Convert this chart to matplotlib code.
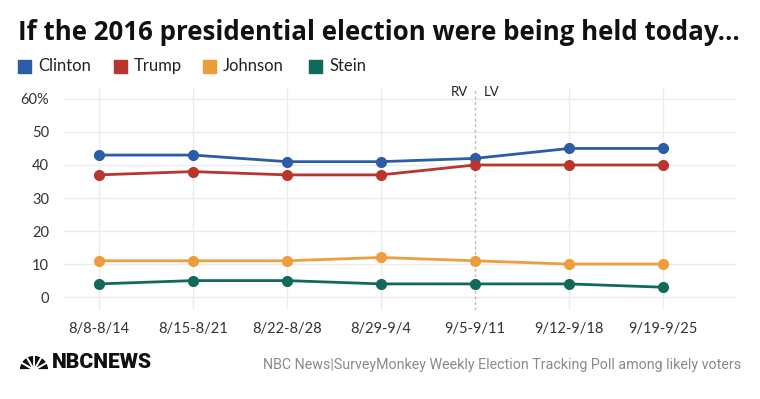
import matplotlib
matplotlib.use("Agg")
import matplotlib.pyplot as plt
from matplotlib.patches import Wedge, Circle

plt.rcParams['font.family'] = ['Lato', 'DejaVu Sans']

weeks = ["8/8-8/14", "8/15-8/21", "8/22-8/28", "8/29-9/4", "9/5-9/11", "9/12-9/18", "9/19-9/25"]
clinton = [43, 43, 41, 41, 42, 45, 45]
trump = [37, 38, 37, 37, 40, 40, 40]
johnson = [11, 11, 11, 12, 11, 10, 10]
stein = [4, 5, 5, 4, 4, 4, 3]
series_names = ["Clinton", "Trump", "Johnson", "Stein"]
colors = ["#2b5ca6", "#b8362d", "#ee9d3b", "#11695a"]
yticks = [0, 10, 20, 30, 40, 50, 60]
ytick_labels = ["0", "10", "20", "30", "40", "50", "60%"]
divider_index = 4

fig = plt.figure(figsize=(7.6, 3.99), dpi=100)
ax = fig.add_axes([63/760, 1-310/399, (737-63)/760, (310-88)/399])

x = list(range(len(weeks)))
for vals, name, c in zip([clinton, trump, johnson, stein], series_names, colors):
    ax.plot(x, vals, color=c, lw=2.0, marker='o', ms=7, mec=c, mfc=c, zorder=3,
            solid_capstyle='round')

ax.set_xlim(-0.383, 6.787)
ax.set_ylim(-3.9, 63.3)
ax.set_yticks(yticks)
ax.set_yticklabels(ytick_labels)
ax.set_xticks(x)
ax.set_xticklabels(weeks)
ax.tick_params(axis='both', length=0, labelsize=10.5, colors='#333333')
ax.tick_params(axis='y', pad=10)
ax.tick_params(axis='x', pad=9)
for s in ax.spines.values():
    s.set_visible(False)
for yv in yticks:
    ax.axhline(yv, color='#ececec', lw=1, zorder=0)
for xv in x:
    if xv != divider_index:
        ax.axvline(xv, color='#ececec', lw=1, zorder=0)
ax.axvline(divider_index, color='#bbbbbb', lw=1, ls=(0, (2, 2)), zorder=1)
ax.text(divider_index - 0.07, 63.3 - 1.1, "RV", ha='right', va='center', fontsize=9.5, color='#222222')
ax.text(divider_index + 0.09, 63.3 - 1.1, "LV", ha='left', va='center', fontsize=9.5, color='#222222')

title = fig.text(18/760, 1-33/399, "If the 2016 presidential election were being held today...",
                 fontsize=16, fontweight='bold', color='#111111', ha='left', va='center',
                 family=['Open Sans', 'DejaVu Sans'])
fig.canvas.draw()
w = title.get_window_extent().width
title.set_fontsize(16 * 724 / w)

# legend (square left edges in pixels)
legend_x = [18, 114, 203, 309]
for lx, name, c in zip(legend_x, series_names, colors):
    fig.patches.append(plt.Rectangle((lx/760, 1-72.5/399), 13/760, 13/399, transform=fig.transFigure,
                                     color=c, figure=fig))
    fig.text((lx+20)/760, 1-66/399, name, fontsize=12, color='#222222', ha='left', va='center')

# footer logo
logo = fig.text(52/760, 1-362.5/399, "NBCNEWS", fontsize=16, fontweight='heavy', color='#111111',
                ha='left', va='center', family=['Roboto', 'DejaVu Sans'])
fig.canvas.draw()
lw_ = logo.get_window_extent().width
logo.set_fontsize(16 * 100 / lw_)

axl = fig.add_axes([19/760, 1-371/399, 30/760, 16/399])
axl.set_xlim(0, 30); axl.set_ylim(0, 16); axl.axis('off')
n = 6
for i in range(n):
    a0 = 180 * i / n
    a1 = 180 * (i + 1) / n
    axl.add_patch(Wedge((15, 1), 15, a0, a1, facecolor='#111111', edgecolor='white', lw=1.3))
axl.add_patch(Circle((15, 1), 3.5, color='white'))

fig.text(741/760, 1-365/399, "NBC News|SurveyMonkey Weekly Election Tracking Poll among likely voters",
         fontsize=10.3, color='#8a8a8a', ha='right', va='center', family=['Roboto', 'DejaVu Sans'])

fig.savefig("out.png", dpi=100)
